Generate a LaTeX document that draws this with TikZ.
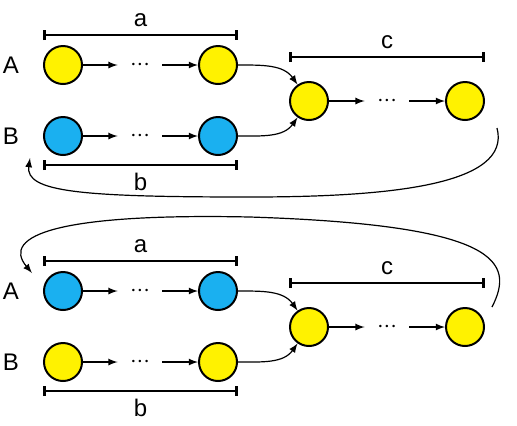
\documentclass[tikz,border=0pt]{standalone}
\usepackage{fontspec}
\setmainfont{Liberation Sans}
\usepackage{tikz}
\usetikzlibrary{arrows,arrows.meta,shapes}
\definecolor{cellblue}{RGB}{26,176,240}
\tikzstyle{yellow vertex}=[circle,draw=black,line width=1pt,fill=yellow,minimum size=19pt,inner sep=0pt]
\tikzstyle{blue vertex}=[circle,draw=black,line width=1pt,fill=cellblue,minimum size=19pt,inner sep=0pt]
\tikzstyle{skip dots}=[inner xsep=6pt,inner ysep=0pt]
\tikzstyle{edge} = [draw,line width=0.6pt,-latex]
\tikzstyle{bar} = [draw,line width=1.3pt,{Bar[width=5pt]}-{Bar[width=5pt]}]
\newcommand{\skipdots}{${\cdot}{\cdot}{\cdot}$}

\begin{document}
\begin{tikzpicture}[x=0.5pt,y=-0.5pt,font=\fontsize{12}{14}\selectfont]
        \useasboundingbox (0,0) rectangle (517,425);
        % top: A yellow, B blue
        \node (lA) at (11,65) {A};
        \node (lB) at (11,136) {B};
        \node[yellow vertex] (a1) at (63,65) {};
        \node[skip dots] (da) at (140,65) {\skipdots};
        \node[yellow vertex] (a2) at (218,65) {};
        \node[blue vertex] (b1) at (63,136) {};
        \node[skip dots] (db) at (140,136) {\skipdots};
        \node[blue vertex] (b2) at (218,136) {};
        \node[yellow vertex] (c1) at (309,101) {};
        \node[skip dots] (dc) at (387,101) {\skipdots};
        \node[yellow vertex] (c2) at (465,101) {};
        \draw[edge] (a1) -- (da);
        \draw[edge] (da) -- (a2);
        \draw[edge] (b1) -- (db);
        \draw[edge] (db) -- (b2);
        \draw[edge] (c1) -- (dc);
        \draw[edge] (dc) -- (c2);
        \draw[edge] (a2) to[out=0,in=125] (c1);
        \draw[edge] (b2) to[out=0,in=-125] (c1);
        \draw[bar] (a1.west |- 0,35) -- (a2.east |- 0,35) node[midway,above] (la) {a};
        \draw[bar] (b1.west |- 0,165) -- (b2.east |- 0,165) node[midway,below] (lb) {b};
        \draw[bar] (c1.west |- 0,57) -- (c2.east |- 0,57) node[midway,above] (lc) {c};
        \coordinate (r1) at (497,128);
        \coordinate (s1) at (30,158);
        \draw[edge] (r1) .. controls (512,185) and (390,197) .. (250,197) .. controls (80,197) and (25,192) .. (s1);
        % bottom: A blue, B yellow
        \node (lA') at (11,291) {A};
        \node (lB') at (11,362) {B};
        \node[blue vertex] (a1') at (63,291) {};
        \node[skip dots] (da') at (140,291) {\skipdots};
        \node[blue vertex] (a2') at (218,291) {};
        \node[yellow vertex] (b1') at (63,362) {};
        \node[skip dots] (db') at (140,362) {\skipdots};
        \node[yellow vertex] (b2') at (218,362) {};
        \node[yellow vertex] (c1') at (309,327) {};
        \node[skip dots] (dc') at (387,327) {\skipdots};
        \node[yellow vertex] (c2') at (465,327) {};
        \draw[edge] (a1') -- (da');
        \draw[edge] (da') -- (a2');
        \draw[edge] (b1') -- (db');
        \draw[edge] (db') -- (b2');
        \draw[edge] (c1') -- (dc');
        \draw[edge] (dc') -- (c2');
        \draw[edge] (a2') to[out=0,in=125] (c1');
        \draw[edge] (b2') to[out=0,in=-125] (c1');
        \draw[bar] (a1'.west |- 0,261) -- (a2'.east |- 0,261) node[midway,above] (la') {a};
        \draw[bar] (b1'.west |- 0,391) -- (b2'.east |- 0,391) node[midway,below] (lb') {b};
        \draw[bar] (c1'.west |- 0,283) -- (c2'.east |- 0,283) node[midway,above] (lc') {c};
        \coordinate (r2) at (492,307);
        \coordinate (s2) at (32,273);
        \draw[edge] (r2) .. controls (515,262) and (500,225) .. (250,217) .. controls (60,213) and (0,235) .. (s2);
\end{tikzpicture}
\end{document}
